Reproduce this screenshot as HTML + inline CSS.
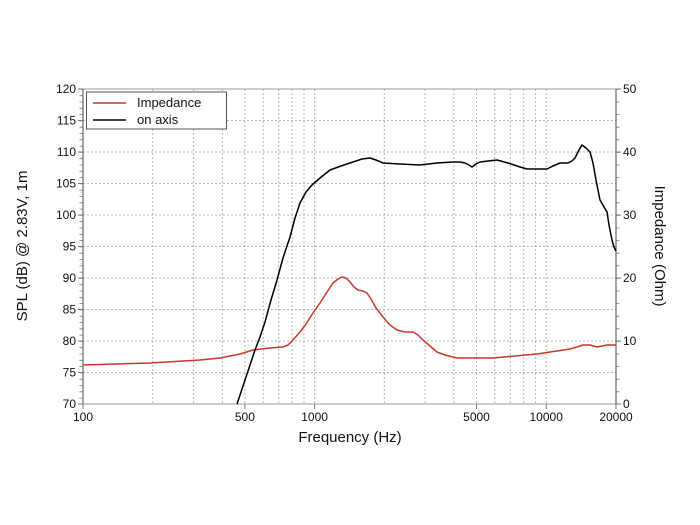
<!DOCTYPE html>
<html><head><meta charset="utf-8"><style>body{margin:0;background:#fff}svg{display:block}text{font-family:"Liberation Sans",sans-serif;fill:#111}</style></head><body>
<svg width="700" height="525" viewBox="0 0 700 525">
<g stroke="#b5b5b5" stroke-width="1" stroke-dasharray="2,2" fill="none">
<path d="M83 120.5H616M83 152H616M83 183.5H616M83 215H616M83 246.5H616M83 278H616M83 309.5H616M83 341H616M83 372.5H616"/>
<path d="M152.7 89V404M193.5 89V404M222.4 89V404M244.9 89V404M263.2 89V404M278.7 89V404M292.1 89V404M304 89V404M314.6 89V404M384.3 89V404M425.1 89V404M454 89V404M476.5 89V404M494.8 89V404M510.3 89V404M523.7 89V404M535.6 89V404M546.2 89V404"/>
</g>
<rect x="83" y="89" width="533" height="315" fill="none" stroke="#999" stroke-width="1"/>
<path d="M83 89V404M616 89V404" stroke="#666" stroke-width="1.2"/>
<g stroke="#777" stroke-width="1">
<line x1="81" y1="89" x2="81" y2="404" stroke-width="3" stroke-dasharray="0.8,5.5"/>
<line x1="618" y1="89" x2="618" y2="404" stroke-width="3" stroke-dasharray="0.8,11.8"/>
<path d="M78 89H83M78 120.5H83M78 152H83M78 183.5H83M78 215H83M78 246.5H83M78 278H83M78 309.5H83M78 341H83M78 372.5H83M78 404H83"/>
<path d="M616 89H621M616 152H621M616 215H621M616 278H621M616 341H621M616 404H621"/>
<path d="M83 404V409M314.6 404V409M546.2 404V409M244.9 404V409M476.5 404V409M616 404V409"/>
</g>
<g font-size="12" text-anchor="end">
<text x="76" y="93">120</text><text x="76" y="124.5">115</text><text x="76" y="156">110</text><text x="76" y="187.5">105</text><text x="76" y="219">100</text><text x="76" y="250.5">95</text><text x="76" y="282">90</text><text x="76" y="313.5">85</text><text x="76" y="345">80</text><text x="76" y="376.5">75</text><text x="76" y="408">70</text>
</g>
<g font-size="12">
<text x="623" y="93">50</text><text x="623" y="156">40</text><text x="623" y="219">30</text><text x="623" y="282">20</text><text x="623" y="345">10</text><text x="623" y="408">0</text>
</g>
<g font-size="12" text-anchor="middle">
<text x="83" y="421">100</text><text x="244.9" y="421">500</text><text x="314.6" y="421">1000</text><text x="476.5" y="421">5000</text><text x="546.2" y="421">10000</text><text x="616" y="421">20000</text>
</g>
<text x="350" y="442" font-size="15" text-anchor="middle">Frequency (Hz)</text>
<text transform="translate(27,246) rotate(-90)" font-size="15" text-anchor="middle">SPL (dB) @ 2.83V, 1m</text>
<text transform="translate(655,246) rotate(90)" font-size="15" text-anchor="middle">Impedance (Ohm)</text>
<polyline fill="none" stroke="#c8372d" stroke-width="1.5" stroke-linejoin="round" points="83,365 150,363 200,360 220,358 240,354 253,350 270,348 283,347 288,345 293,340 300,332 306,324 313,313 320,303 327,292 333,283 338,279 342,277 346,278 350,282 354,287 358,290 363,291 367,293 371,299 376,308 383,317 390,325 397,330 405,332 413,332 418,335 423,340 430,346 437,352 445,355 457,358 493,358 537,354 570,349 577,347 583,345 590,345 597,347 607,345 616,345"/>
<polyline fill="none" stroke="#000" stroke-width="1.5" stroke-linejoin="round" points="237,404 245,380 250,365 255,350 260,337 265,322 271,300 277,280 283,258 290,237 295,218 300,203 306,192 312,185 320,178 330,170 341,166 353,162 362,159 370,158 376,160 383,163 400,164 420,165 437,163 453,162 460,162 465,163 469,165 472,167 476,164 480,162 488,161 497,160 508,163 520,167 527,169 533,169 540,169 547,169 553,166 560,163 568,163 572,161 575,158 579,150 582,145 586,148 590,152 593,163 596,180 600,200 604,207 607,212 609,225 612,240 614,247 616,251"/>
<rect x="86.5" y="92" width="140" height="37" fill="#fff" stroke="#555" stroke-width="1"/>
<line x1="93" y1="103" x2="126" y2="103" stroke="#c8372d" stroke-width="1.5"/>
<line x1="93" y1="120" x2="126" y2="120" stroke="#000" stroke-width="1.5"/>
<text x="137" y="107" font-size="13">Impedance</text>
<text x="137" y="124" font-size="13">on axis</text>
</svg>
</body></html>
